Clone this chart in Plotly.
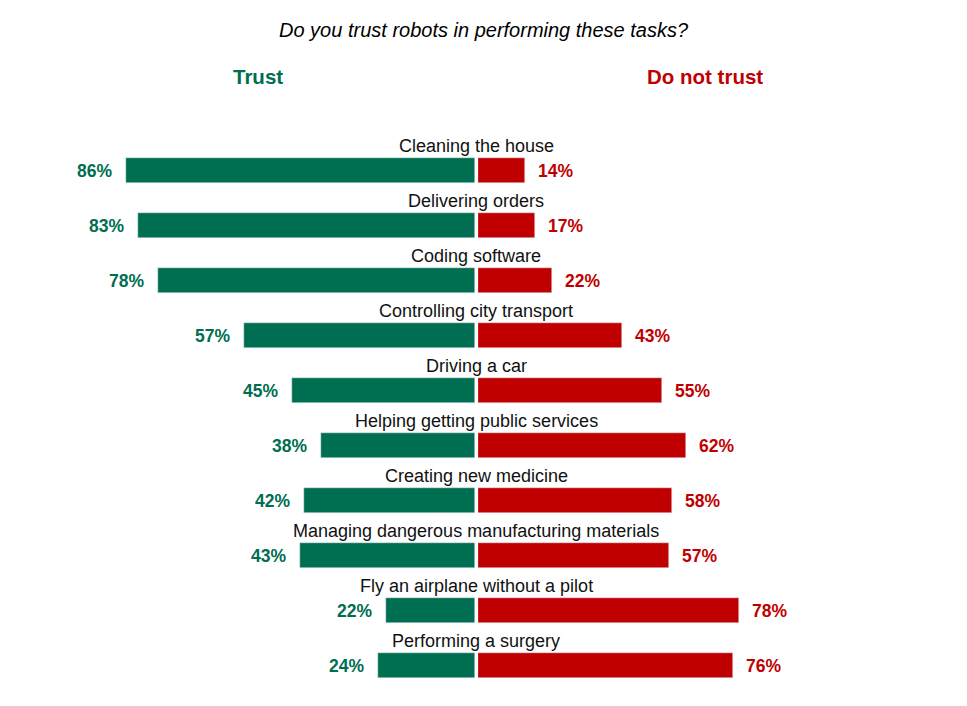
import plotly.graph_objects as go

tasks = ["Cleaning the house", "Delivering orders", "Coding software",
         "Controlling city transport", "Driving a car",
         "Helping getting public services", "Creating new medicine",
         "Managing dangerous manufacturing materials",
         "Fly an airplane without a pilot", "Performing a surgery"]
trust = [86, 83, 78, 57, 45, 38, 42, 43, 22, 24]
no_trust = [14, 17, 22, 43, 55, 62, 58, 57, 78, 76]

GREEN = "#006E51"
RED = "#C00000"
FONT = "Liberation Sans, Arial, sans-serif"
W, H = 967, 706

pos = list(range(len(tasks)))

fig = go.Figure()
fig.add_trace(go.Bar(x=trust, y=pos, orientation="h", marker_color=GREEN,
                     width=0.46, xaxis="x", yaxis="y", hoverinfo="skip"))
fig.add_trace(go.Bar(x=no_trust, y=pos, orientation="h", marker_color=RED,
                     width=0.46, xaxis="x2", yaxis="y", hoverinfo="skip"))

ann = []
for i, (t, a, b) in enumerate(zip(tasks, trust, no_trust)):
    ann.append(dict(x=476 / W, xref="paper", y=i - 0.44, yref="y", text=t,
                    showarrow=False, xanchor="center", yanchor="middle",
                    font=dict(family=FONT, size=18, color="#111111")))
    ann.append(dict(x=a, xref="x", y=i, yref="y", text=f"<b>{a}%</b>",
                    showarrow=False, xanchor="right", yanchor="middle", xshift=-12,
                    font=dict(family=FONT, size=17.5, color=GREEN)))
    ann.append(dict(x=b, xref="x2", y=i, yref="y", text=f"<b>{b}%</b>",
                    showarrow=False, xanchor="left", yanchor="middle", xshift=11,
                    font=dict(family=FONT, size=17.5, color=RED)))

ann.append(dict(x=484 / W, xref="paper", y=1 - 30 / H, yref="paper",
                text="<i>Do you trust robots in performing these tasks?</i>",
                showarrow=False, xanchor="center", yanchor="middle",
                font=dict(family=FONT, size=20, color="black")))
ann.append(dict(x=257.5 / W, xref="paper", y=1 - 76 / H, yref="paper",
                text="<b>Trust</b>", showarrow=False, xanchor="center", yanchor="middle",
                font=dict(family=FONT, size=20.5, color=GREEN)))
ann.append(dict(x=704.5 / W, xref="paper", y=1 - 76 / H, yref="paper",
                text="<b>Do not trust</b>", showarrow=False, xanchor="center", yanchor="middle",
                font=dict(family=FONT, size=20.5, color=RED)))

fig.update_layout(
    width=W, height=H, margin=dict(l=0, r=0, t=0, b=0),
    paper_bgcolor="white", plot_bgcolor="white", showlegend=False,
    bargap=0,
    xaxis=dict(domain=[69 / W, 475 / W], range=[100, 0], visible=False, fixedrange=True),
    xaxis2=dict(domain=[478 / W, 813 / W], range=[0, 100], visible=False,
                anchor="y", fixedrange=True),
    yaxis=dict(domain=[0, 1], range=[(706 - 170.5) / 55, -170.5 / 55], visible=False,
               anchor="x", fixedrange=True),
    annotations=ann,
)

fig.write_html("out.html")
